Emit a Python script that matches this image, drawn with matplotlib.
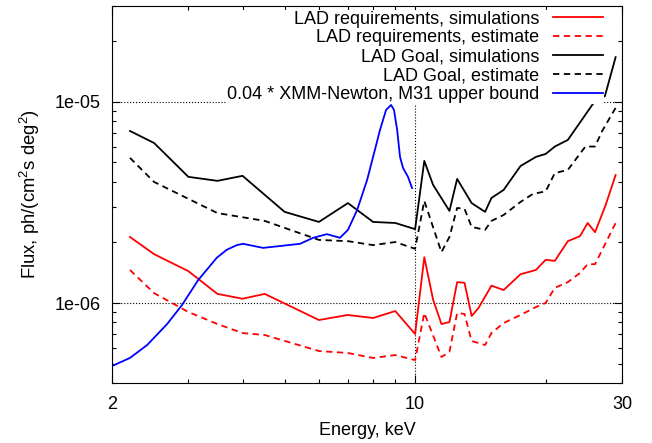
import numpy as np
import matplotlib
matplotlib.use('Agg')
import matplotlib.pyplot as plt
from matplotlib.ticker import FixedLocator, FuncFormatter, NullFormatter, LogLocator

plt.rcParams['font.family'] = ['Liberation Sans', 'DejaVu Sans']
plt.rcParams['font.size'] = 13
plt.rcParams['mathtext.fontset'] = 'custom'
plt.rcParams['mathtext.rm'] = 'Liberation Sans'
plt.rcParams['mathtext.it'] = 'Liberation Sans:italic'

# LAD requirements, simulations
e_req_sim = [2.2, 2.5, 3.0, 3.5, 4.0, 4.5, 6.0, 7.0, 8.0, 9.0, 10.0, 10.5, 11.0, 11.5, 12.0,
             12.5, 13.0, 13.5, 14.0, 15.0, 16.0, 17.5, 19.0, 20.0, 21.0, 22.5, 24.0, 25.0,
             26.0, 27.5, 29.0]
f_req_sim = [2.13e-6, 1.75e-6, 1.44e-6, 1.11e-6, 1.05e-6, 1.11e-6, 8.23e-7, 8.72e-7, 8.42e-7,
             9.12e-7, 7.01e-7, 1.69e-6, 1.04e-6, 7.86e-7, 8.04e-7, 1.27e-6, 1.26e-6, 8.62e-7,
             9.44e-7, 1.22e-6, 1.16e-6, 1.39e-6, 1.46e-6, 1.64e-6, 1.62e-6, 2.03e-6, 2.15e-6,
             2.50e-6, 2.25e-6, 3.07e-6, 4.33e-6]

# LAD requirements, estimate
e_req_est = [2.2, 2.5, 3.0, 3.5, 4.0, 4.5, 6.0, 7.0, 8.0, 9.0, 10.0, 10.5, 11.5, 12.0, 12.5,
             13.0, 13.5, 14.5, 15.0, 16.0, 17.5, 19.0, 20.0, 21.0, 22.5, 24.0, 25.0, 26.0, 29.0]
f_req_est = [1.46e-6, 1.12e-6, 9.02e-7, 7.86e-7, 7.09e-7, 6.93e-7, 5.77e-7, 5.64e-7, 5.33e-7,
             5.51e-7, 5.20e-7, 8.92e-7, 5.39e-7, 5.71e-7, 8.92e-7, 8.82e-7, 6.47e-7, 6.18e-7,
             7.09e-7, 7.95e-7, 8.72e-7, 9.55e-7, 1.00e-6, 1.19e-6, 1.27e-6, 1.41e-6, 1.56e-6,
             1.56e-6, 2.50e-6]

# LAD Goal, simulations
e_goal_sim = [2.2, 2.5, 3.0, 3.5, 4.0, 5.0, 6.0, 7.0, 8.0, 9.0, 10.0, 10.5, 11.0, 12.0, 12.5,
              13.5, 14.5, 15.0, 16.0, 17.5, 19.0, 20.0, 21.0, 22.5, 24.0, 25.7, 27.4, 29.0]
f_goal_sim = [7.17e-6, 6.25e-6, 4.24e-6, 4.05e-6, 4.29e-6, 2.84e-6, 2.53e-6, 3.14e-6, 2.53e-6,
              2.50e-6, 2.33e-6, 5.09e-6, 3.87e-6, 2.87e-6, 4.14e-6, 3.14e-6, 2.84e-6, 3.33e-6,
              3.65e-6, 4.80e-6, 5.33e-6, 5.51e-6, 6.00e-6, 6.47e-6, 7.90e-6, 9.77e-6, 1.07e-5,
              1.67e-5]

# LAD Goal, estimate
e_goal_est = [2.2, 2.5, 3.5, 4.5, 6.0, 7.0, 8.0, 9.0, 10.0, 10.5, 11.5, 12.0, 12.5, 13.0, 13.5,
              14.5, 15.0, 16.0, 17.5, 18.7, 20.0, 21.0, 22.5, 24.7, 26.0, 27.0, 29.0]
f_goal_est = [5.27e-6, 4.00e-6, 2.80e-6, 2.56e-6, 2.06e-6, 2.03e-6, 1.94e-6, 2.01e-6, 1.86e-6,
              3.22e-6, 1.79e-6, 2.13e-6, 2.97e-6, 2.94e-6, 2.39e-6, 2.31e-6, 2.56e-6, 2.74e-6,
              3.18e-6, 3.49e-6, 3.59e-6, 4.43e-6, 4.59e-6, 6.00e-6, 6.00e-6, 7.17e-6, 9.34e-6]

# 0.04 * XMM-Newton, M31 upper bound
e_xmm = [2.0, 2.2, 2.41, 2.68, 2.90, 3.16, 3.49, 3.68, 3.88, 4.01, 4.46, 4.88, 5.43, 5.82, 6.26,
         6.71, 7.0, 7.35, 7.75, 8.0, 8.30, 8.57, 8.80, 8.94, 9.09, 9.23, 9.38, 9.63, 9.84]
f_xmm = [4.86e-7, 5.33e-7, 6.18e-7, 7.86e-7, 9.77e-7, 1.30e-6, 1.68e-6, 1.84e-6, 1.94e-6,
         1.97e-6, 1.88e-6, 1.92e-6, 1.97e-6, 2.11e-6, 2.20e-6, 2.11e-6, 2.31e-6, 2.90e-6,
         4.09e-6, 5.33e-6, 7.26e-6, 9.12e-6, 9.66e-6, 9.12e-6, 7.26e-6, 5.33e-6, 4.69e-6,
         4.24e-6, 3.73e-6]

fig = plt.figure(figsize=(6.52, 4.43), dpi=100)
ax = fig.add_axes([0.1718, 0.1354, 0.7822, 0.8511])

dash = (0, (3.5, 2.5))
ax.plot(e_req_sim, f_req_sim, color='red', lw=1.3, label='LAD requirements, simulations')
ax.plot(e_req_est, f_req_est, color='red', lw=1.3, linestyle=dash, label='LAD requirements, estimate')
ax.plot(e_goal_sim, f_goal_sim, color='black', lw=1.3, label='LAD Goal, simulations')
ax.plot(e_goal_est, f_goal_est, color='black', lw=1.3, linestyle=dash, label='LAD Goal, estimate')
ax.plot(e_xmm, f_xmm, color='blue', lw=1.3, label='0.04 * XMM-Newton, M31 upper bound')

ax.set_xscale('log')
ax.set_yscale('log')
ax.set_xlim(2, 30)
ax.set_ylim(4e-7, 3e-5)

ax.xaxis.set_major_locator(FixedLocator([2, 10, 30]))
ax.xaxis.set_major_formatter(FuncFormatter(lambda v, p: '%g' % v))
ax.xaxis.set_minor_locator(FixedLocator([3, 4, 5, 6, 7, 8, 9, 20]))
ax.xaxis.set_minor_formatter(NullFormatter())
ax.yaxis.set_major_locator(FixedLocator([1e-6, 1e-5]))
ax.yaxis.set_major_formatter(FuncFormatter(lambda v, p: '%.0e' % v))
ax.yaxis.set_minor_locator(LogLocator(base=10, subs=np.arange(2, 10)))
ax.yaxis.set_minor_formatter(NullFormatter())

ax.tick_params(which='both', direction='in', top=True, right=True, width=0.8, labelsize=13)
ax.tick_params(which='major', length=6)
ax.tick_params(which='minor', length=3)
ax.tick_params(axis='x', pad=9)
ax.tick_params(axis='y', pad=8)

ax.set_axisbelow(True)
ax.grid(True, which='major', linestyle=':', color='black', lw=0.8)

ax.set_xlabel('Energy, keV', labelpad=7)
ax.set_ylabel(r'Flux, ph/(cm$^2$s deg$^2$)', labelpad=9, fontsize=13.3)

ax.legend(loc='upper right', bbox_to_anchor=(0.965, 0.99), markerfirst=False,
          frameon=True, fancybox=False, edgecolor='none', facecolor='white', framealpha=1,
          fontsize=13, handlelength=2.8, handletextpad=0.75, labelspacing=0.1,
          borderpad=0.05, borderaxespad=0)

plt.savefig('out.png', dpi=100)
